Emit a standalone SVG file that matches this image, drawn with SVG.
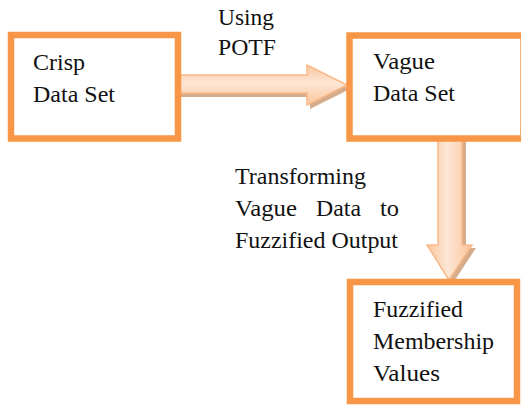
<svg xmlns="http://www.w3.org/2000/svg" width="521" height="405" viewBox="0 0 521 405">
  <style>
    .box { fill: #ffffff; stroke: #f79646; stroke-width: 6.5; }
    .arrow { stroke: #fab98a; stroke-width: 1.5; stroke-linejoin: miter; }
    .shadow { fill: #cf9f78; opacity: 0.85; }
    .txt { font-family: "Liberation Serif", "DejaVu Serif", "Times New Roman", serif; font-size: 22.5px; fill: #111111; }
  </style>
  <defs>
    <linearGradient id="gradH" x1="0" y1="0" x2="0" y2="1">
      <stop offset="0" stop-color="#fbc59a"/>
      <stop offset="0.45" stop-color="#fde6d5"/>
      <stop offset="1" stop-color="#fbc59a"/>
    </linearGradient>
    <linearGradient id="gradV" x1="0" y1="0" x2="1" y2="0">
      <stop offset="0" stop-color="#fbc59a"/>
      <stop offset="0.45" stop-color="#fde6d5"/>
      <stop offset="1" stop-color="#fbc59a"/>
    </linearGradient>
  </defs>

  <!-- connectors and their labels -->
  <g id="connectors">
    <!-- horizontal block arrow: Crisp -> Vague -->
    <path class="shadow" d="M181,79 H310 V69 L350,89 L310,109 V97 H181 Z"/>
    <path class="arrow" fill="url(#gradH)" d="M178,75 H307 V65 L347,85 L307,105 V93 H178 Z"/>
    <!-- vertical block arrow: Vague -> Fuzzified -->
    <path class="shadow" d="M442,141 H466 V248 H476 L453,283 L431,248 H442 Z"/>
    <path class="arrow" fill="url(#gradV)" d="M438,138 H462 V245 H472 L449,280 L427,245 H438 Z"/>
    <text class="txt" x="218" y="25" textLength="56" lengthAdjust="spacingAndGlyphs">Using</text>
    <text class="txt" x="218" y="55" textLength="58" lengthAdjust="spacingAndGlyphs">POTF</text>
    <text class="txt" x="235" y="184" textLength="131" lengthAdjust="spacingAndGlyphs">Transforming</text>
    <text class="txt" x="235" y="216" textLength="62" lengthAdjust="spacingAndGlyphs">Vague</text>
    <text class="txt" x="316" y="216" textLength="45" lengthAdjust="spacingAndGlyphs">Data</text>
    <text class="txt" x="380" y="216" textLength="19" lengthAdjust="spacingAndGlyphs">to</text>
    <text class="txt" x="235" y="248" textLength="163" lengthAdjust="spacingAndGlyphs">Fuzzified Output</text>
  </g>

  <g id="crisp">
    <rect class="box" x="11" y="35" width="167" height="103.5"/>
    <text class="txt" x="33" y="70" textLength="52" lengthAdjust="spacingAndGlyphs">Crisp</text>
    <text class="txt" x="33" y="102" textLength="82" lengthAdjust="spacingAndGlyphs">Data Set</text>
  </g>

  <g id="vague">
    <rect class="box" x="349.5" y="35.5" width="174" height="103"/>
    <text class="txt" x="373" y="69" textLength="62" lengthAdjust="spacingAndGlyphs">Vague</text>
    <text class="txt" x="373" y="101" textLength="82" lengthAdjust="spacingAndGlyphs">Data Set</text>
  </g>

  <g id="fuzzified">
    <rect class="box" x="350" y="282" width="167" height="119"/>
    <text class="txt" x="373" y="317" textLength="90" lengthAdjust="spacingAndGlyphs">Fuzzified</text>
    <text class="txt" x="373" y="349" textLength="121" lengthAdjust="spacingAndGlyphs">Membership</text>
    <text class="txt" x="373" y="381" textLength="67" lengthAdjust="spacingAndGlyphs">Values</text>
  </g>
</svg>
